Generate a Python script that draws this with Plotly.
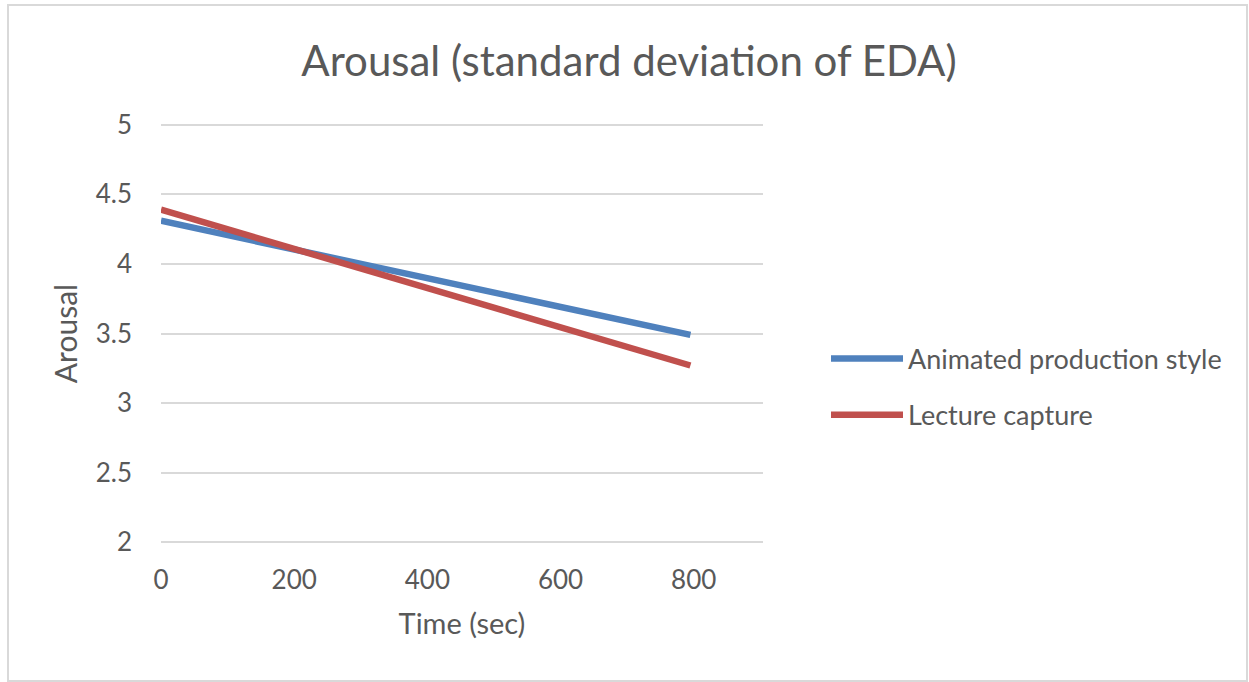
import plotly.graph_objects as go

# Linear trend of arousal over time for the two production styles
time_sec = [0, 795]
animated = [4.31, 3.49]
lecture = [4.39, 3.27]

series_names = ["Animated production style", "Lecture capture"]
series_colors = ["#4F81BD", "#C0504D"]

x_ticks = [0, 200, 400, 600, 800]
y_ticks = [2, 2.5, 3, 3.5, 4, 4.5, 5]

W, H = 1249, 682
L, R, T, B = 161, 486, 122, 137
pw, ph = W - L - R, H - T - B

font_family = "Lato, 'Open Sans', sans-serif"
text_gray = "#595959"

fig = go.Figure()
for i, (name, ys, col) in enumerate(zip(series_names, [animated, lecture], series_colors)):
    fig.add_trace(go.Scatter(
        x=time_sec, y=ys, mode="lines", name=name, legendgroup=f"g{i}",
        line=dict(color=col, width=6.5),
    ))


def px_x(p):
    return (p - L) / pw


def px_y(p):
    return (H - B - p) / ph


fig.update_layout(
    width=W, height=H,
    margin=dict(l=L, r=R, t=T, b=B),
    paper_bgcolor="white", plot_bgcolor="white",
    font=dict(family=font_family, color=text_gray, size=26),
    title=dict(text="Arousal (standard deviation of EDA)",
               x=px_x(629), xanchor="center", xref="paper",
               y=1 - 61 / H, yanchor="middle",
               font=dict(size=42, color=text_gray)),
    xaxis=dict(range=[0, 904], tickvals=x_ticks, showgrid=False,
               zeroline=False, showline=False, ticks="",
               ticklabelstandoff=17,
               title=dict(text="Time (sec)", font=dict(size=29), standoff=19),
               tickfont=dict(size=26)),
    yaxis=dict(range=[1.98, 5.02], tickvals=y_ticks, showgrid=True,
               gridcolor="#D9D9D9", gridwidth=2, zeroline=False,
               showline=False, ticks="", ticklabelstandoff=28,
               title=dict(text="Arousal", font=dict(size=30), standoff=9),
               tickfont=dict(size=26)),
    legend=dict(x=px_x(826), xanchor="left", y=px_y(387), yanchor="middle",
                font=dict(size=27, color=text_gray), itemwidth=72,
                traceorder="grouped", tracegroupgap=18,
                bgcolor="rgba(0,0,0,0)"),
    shapes=[dict(type="rect", xref="paper", yref="paper",
                 x0=px_x(8), x1=px_x(1247), y0=px_y(681), y1=px_y(5),
                 line=dict(color="#D9D9D9", width=2), layer="below")],
)

fig.write_html("out.html")
